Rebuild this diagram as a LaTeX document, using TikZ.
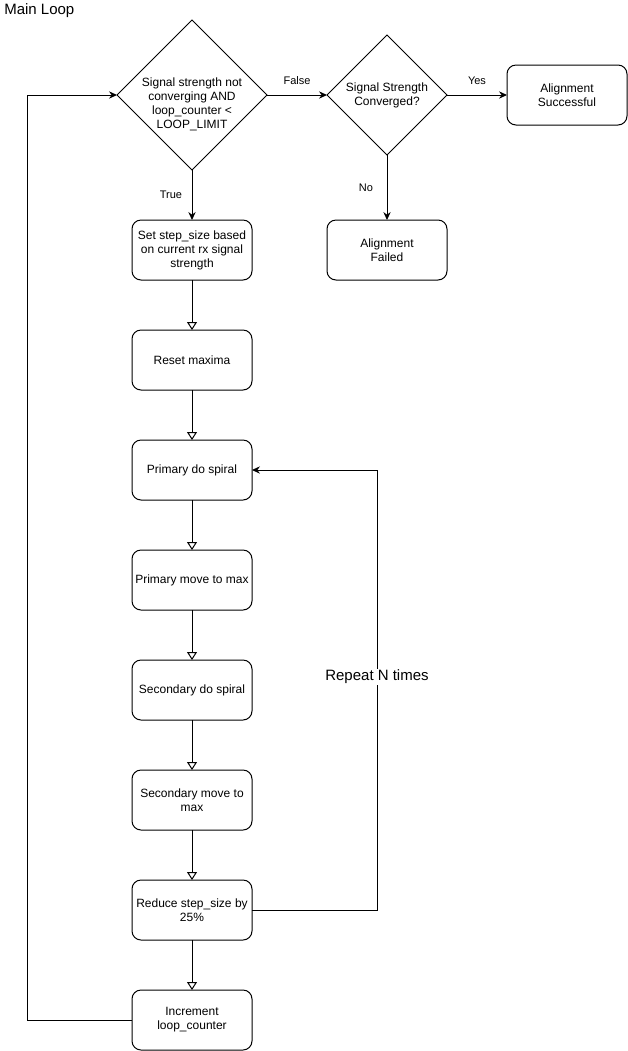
\documentclass[tikz,border=0pt]{standalone}
\usepackage{fontspec}
\setmainfont{Liberation Sans}
\usetikzlibrary{positioning,arrows.meta,shapes.geometric}
\newcommand{\boxfont}{\fontsize{9}{10.5}\selectfont}
\newcommand{\edgefont}{\fontsize{8.25}{10}\selectfont}
\newcommand{\bigfont}{\fontsize{11.25}{13}\selectfont}
\tikzset{
  proc/.style={draw, line width=0.75pt, rounded corners=6.75pt, minimum width=90pt,
               minimum height=45pt, align=center, font=\boxfont, inner sep=1pt,
               outer sep=0pt},
  dec/.style={diamond, draw, line width=0.75pt, aspect=1, inner sep=-3pt,
              align=center, font=\boxfont, outer sep=0pt},
  arr/.style={-{Stealth[length=6pt,width=5.5pt,inset=2pt]}, line width=0.75pt},
  oarr/.style={-{Triangle[open,length=6pt,width=7.5pt]}, line width=0.75pt},
  lbl/.style={font=\edgefont, inner sep=1pt},
}

\begin{document}
\begin{tikzpicture}[x=0.75pt,y=-0.75pt, node distance=37.5pt]
  \useasboundingbox (0,0) rectangle (628,1051);

  \node[anchor=west, font=\bigfont, inner sep=0pt] (title) at (4,11) {Main Loop};

  % decisions
  \node[dec, inner sep=-13pt, minimum width=112.5pt, minimum height=112.5pt] (cond) at (192,95)
       {\mbox{}\\[10.5pt]Signal strength not\\converging AND\\loop\_counter <\\LOOP\_LIMIT};
  \node[dec, minimum width=90pt, minimum height=90pt] (conv) at (387,95)
       {Signal Strength\\Converged?};
  \node[proc] (success) at (567,95) {Alignment\\Successful};
  \node[proc] (failed)  at (387,250) {Alignment\\Failed};

  \draw[arr] (cond.east) -- node[lbl, yshift=10.5pt] {False} (conv.west);
  \draw[arr] (conv.east) -- node[lbl, yshift=10.5pt] {Yes} (success.west);
  \draw[arr] (conv.south) -- node[lbl, xshift=-15.75pt] {No} (failed.north);

  % main column
  \node[proc] (stepsz) at (192,250) {Set step\_size based\\on current rx signal\\strength};
  \node[proc, below=of stepsz]  (reset)   {Reset maxima};
  \node[proc, below=of reset]   (pspiral) {Primary do spiral};
  \node[proc, below=of pspiral] (pmove)   {Primary move to max};
  \node[proc, below=of pmove]   (sspiral) {Secondary do spiral};
  \node[proc, below=of sspiral] (smove)   {Secondary move to\\max};
  \node[proc, below=of smove]   (reduce)  {Reduce step\_size by\\25\%};
  \node[proc, below=of reduce]  (incr)    {Increment\\loop\_counter};

  \draw[arr] (cond.south) -- node[lbl, xshift=-15.75pt] {True} (stepsz.north);
  \draw[oarr] (stepsz.south)  -- (reset.north);
  \draw[oarr] (reset.south)   -- (pspiral.north);
  \draw[oarr] (pspiral.south) -- (pmove.north);
  \draw[oarr] (pmove.south)   -- (sspiral.north);
  \draw[oarr] (sspiral.south) -- (smove.north);
  \draw[oarr] (smove.south)   -- (reduce.north);
  \draw[oarr] (reduce.south)  -- (incr.north);

  % loops back
  \draw[arr] (reduce.east) -- ++(125,0) |- (pspiral.east);
  \node[font=\bigfont, fill=white, inner sep=1pt] (repeat) at (377,677) {Repeat N times};
  \draw[arr] (incr.west) -- ++(-105,0) |- (cond.west);
\end{tikzpicture}
\end{document}
